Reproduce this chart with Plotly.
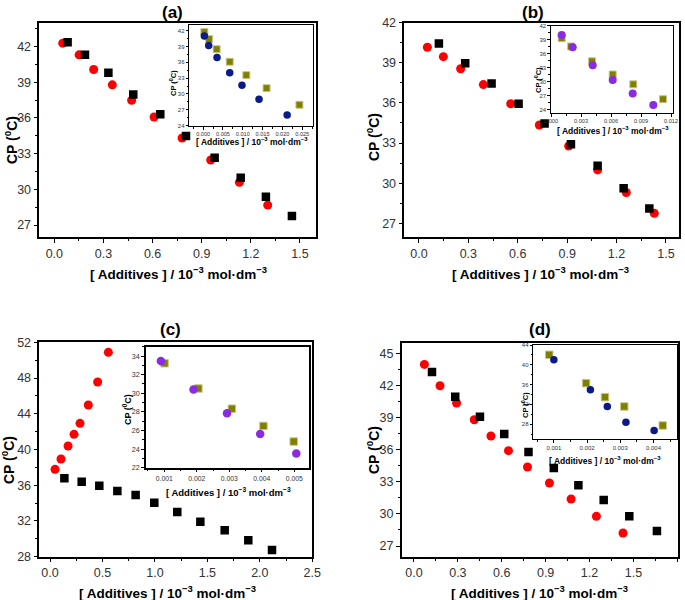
import plotly.graph_objects as go

W, H = 685, 600

# ---------------- data ----------------
# Panel (a) main
a_red_x = [0.051, 0.151, 0.240, 0.354, 0.472, 0.609, 0.780, 0.955, 1.130, 1.303]
a_red_y = [42.28, 41.30, 40.07, 38.78, 37.49, 36.08, 34.32, 32.47, 30.59, 28.68]
a_blk_x = [0.081, 0.187, 0.330, 0.482, 0.647, 0.804, 0.979, 1.138, 1.292, 1.451]
a_blk_y = [42.36, 41.30, 39.79, 37.96, 36.31, 34.49, 32.66, 30.98, 29.38, 27.76]
# Panel (a) inset
ai_olv_x = [0.0003, 0.0015, 0.0034, 0.0067, 0.0109, 0.0160, 0.0243]
ai_olv_y = [41.75, 40.42, 38.51, 36.11, 33.57, 31.10, 27.93]
ai_blu_x = [0.0003, 0.0014, 0.0035, 0.0067, 0.0098, 0.0141, 0.0212]
ai_blu_y = [40.99, 39.21, 36.93, 34.02, 31.67, 29.00, 25.97]

# Panel (b) main
b_red_x = [0.051, 0.148, 0.253, 0.391, 0.557, 0.731, 0.909, 1.085, 1.259, 1.429]
b_red_y = [40.16, 39.46, 38.56, 37.37, 35.94, 34.35, 32.78, 30.99, 29.30, 27.75]
b_blk_x = [0.121, 0.281, 0.441, 0.605, 0.763, 0.923, 1.085, 1.243, 1.399]
b_blk_y = [40.45, 38.96, 37.46, 35.94, 34.47, 32.90, 31.31, 29.62, 28.10]
# Panel (b) inset
bi_olv_x = [0.00107, 0.0020, 0.0041, 0.00617, 0.00823, 0.0112]
bi_olv_y = [39.32, 37.55, 34.38, 31.56, 29.44, 26.26]
bi_pur_x = [0.00107, 0.00217, 0.00417, 0.00617, 0.00817, 0.01023]
bi_pur_y = [40.02, 37.41, 33.53, 30.36, 27.46, 24.99]

# Panel (c) main
c_red_x = [0.048, 0.105, 0.172, 0.229, 0.286, 0.365, 0.454, 0.556]
c_red_y = [37.78, 38.94, 40.39, 41.70, 42.93, 44.98, 47.56, 50.88]
c_blk_x = [0.137, 0.302, 0.470, 0.642, 0.816, 0.994, 1.213, 1.433, 1.665, 1.890, 2.116]
c_blk_y = [36.77, 36.40, 35.95, 35.35, 34.90, 34.05, 33.00, 31.92, 30.95, 29.83, 28.74]
# Panel (c) inset
ci_pur_x = [0.000897, 0.0019, 0.00293, 0.00395, 0.00506]
ci_pur_y = [33.47, 30.40, 27.84, 25.63, 23.53]
ci_olv_x = [0.00101, 0.00205, 0.00308, 0.00405, 0.00498]
ci_olv_y = [33.22, 30.51, 28.34, 26.49, 24.81]

# Panel (d) main
d_red_x = [0.071, 0.178, 0.291, 0.412, 0.526, 0.646, 0.776, 0.926, 1.074, 1.247, 1.429]
d_red_y = [43.97, 41.98, 40.36, 38.80, 37.28, 35.91, 34.38, 32.89, 31.39, 29.77, 28.21]
d_blk_x = [0.123, 0.282, 0.451, 0.617, 0.783, 0.956, 1.124, 1.297, 1.472, 1.661]
d_blk_y = [43.26, 40.95, 39.08, 37.46, 35.78, 34.29, 32.67, 31.30, 29.77, 28.40]
# Panel (d) inset
di_olv_x = [0.00086, 0.00197, 0.00254, 0.00312, 0.00428]
di_olv_y = [42.02, 36.29, 33.46, 31.57, 27.73]
di_blu_x = [0.0010, 0.0021, 0.00261, 0.00317, 0.00402]
di_blu_y = [41.01, 34.94, 31.57, 28.40, 26.72]

panel_labels = ["(a)", "(b)", "(c)", "(d)"]
x_title = "[ Additives ] / 10<sup>−3</sup> mol·dm<sup>−3</sup>"
y_title = "CP (<sup>0</sup>C)"

# ---------------- styles ----------------
RED, BLACK = "#ff0000", "#000000"
OLIVE, NAVY, PURPLE = "#808000", "#0b1a8a", "#8a2be2"
FONT = "Liberation Sans, Arial, sans-serif"
TICKCOL = "#333333"


def dx(a, b):
    return [a / W, b / W]


def dy(top, bottom):
    return [1 - bottom / H, 1 - top / H]


fig = go.Figure()


def add_pts(x, y, color, symbol, size, xa, ya, line_color=None):
    fig.add_trace(go.Scatter(
        x=x, y=y, mode="markers", xaxis=xa, yaxis=ya, showlegend=False,
        marker=dict(color=color, symbol=symbol, size=size,
                    line=dict(width=1 if line_color else 0, color=line_color or color))))


# main panels
add_pts(a_red_x, a_red_y, RED, "circle", 9, "x", "y")
add_pts(a_blk_x, a_blk_y, BLACK, "square", 8.5, "x", "y")
add_pts(b_red_x, b_red_y, RED, "circle", 9, "x2", "y2")
add_pts(b_blk_x, b_blk_y, BLACK, "square", 8.5, "x2", "y2")
add_pts(c_red_x, c_red_y, RED, "circle", 9, "x3", "y3")
add_pts(c_blk_x, c_blk_y, BLACK, "square", 8.5, "x3", "y3")
add_pts(d_red_x, d_red_y, RED, "circle", 9, "x4", "y4")
add_pts(d_blk_x, d_blk_y, BLACK, "square", 8.5, "x4", "y4")
# insets
add_pts(ai_olv_x, ai_olv_y, OLIVE, "square", 7, "x5", "y5", "#c9c98a")
add_pts(ai_blu_x, ai_blu_y, NAVY, "circle", 7.5, "x5", "y5")
add_pts(bi_olv_x, bi_olv_y, OLIVE, "square", 7, "x6", "y6", "#c9c98a")
add_pts(bi_pur_x, bi_pur_y, PURPLE, "circle", 8, "x6", "y6")
add_pts(ci_olv_x, ci_olv_y, OLIVE, "square", 7.5, "x7", "y7", "#c9c98a")
add_pts(ci_pur_x, ci_pur_y, PURPLE, "circle", 8.5, "x7", "y7")
add_pts(di_olv_x, di_olv_y, OLIVE, "square", 7.5, "x8", "y8", "#c9c98a")
add_pts(di_blu_x, di_blu_y, NAVY, "circle", 7.5, "x8", "y8")


def axis(domain, rng, dtick, fmt, anchor, fs, minor_dtick=None, tick0=0, lw=1.5, ticklen=4):
    d = dict(domain=domain, range=rng, dtick=dtick, tick0=tick0, tickformat=fmt,
             anchor=anchor, showgrid=False, zeroline=False, showline=True, mirror=True,
             linecolor="black", linewidth=lw, ticks="outside", ticklen=ticklen,
             tickcolor="black", tickwidth=1, automargin=False,
             tickfont=dict(family=FONT, size=fs, color=TICKCOL))
    if minor_dtick:
        d["minor"] = dict(ticks="outside", ticklen=ticklen * 0.6, dtick=minor_dtick,
                          tick0=tick0, tickcolor="black", showgrid=False)
    return d


lay = dict(
    width=W, height=H, margin=dict(l=0, r=0, t=0, b=0, autoexpand=False),
    paper_bgcolor="white", plot_bgcolor="white", showlegend=False,
    # main (a)
    xaxis=axis(dx(39.3, 316), [-0.092, 1.598], 0.3, ".1f", "y", 12.5, 0.15),
    yaxis=axis(dy(22.7, 237), [26, 44], 3, "d", "x", 12.5, 1.5),
    # main (b)
    xaxis2=axis(dx(404.3, 679.3), [-0.089, 1.581], 0.3, ".1f", "y2", 12.5, 0.15),
    yaxis2=axis(dy(22.7, 237.3), [25.95, 42], 3, "d", "x2", 12.5, 1.5),
    # main (c)
    xaxis3=axis(dx(39.3, 312.3), [-0.102, 2.5], 0.5, ".1f", "y3", 12.5, 0.25),
    yaxis3=axis(dy(342.3, 556.7), [28, 52], 4, "d", "x3", 12.5, 2),
    # main (d)
    xaxis4=axis(dx(401.7, 678), [-0.084, 1.805], 0.3, ".1f", "y4", 12.5, 0.15),
    yaxis4=axis(dy(342.7, 556.7), [26, 46], 3, "d", "x4", 12.5, 1.5),
    # inset (a)
    xaxis5=axis(dx(189.3, 313.3), [-0.0035, 0.0278], 0.005, ".3f", "y5", 5.6, 0.0025, lw=1.2, ticklen=2.5),
    yaxis5=axis(dy(25, 126), [23.9, 43.1], 3, "d", "x5", 6, 1.5, lw=1.2, ticklen=2.5),
    # inset (b)
    xaxis6=axis(dx(551, 673), [0, 0.0122], 0.003, ".3f", "y6", 5.6, 0.0015, lw=1.2, ticklen=2.5),
    yaxis6=axis(dy(25.7, 113), [23.3, 42], 3, "d", "x6", 6, 1.5, lw=1.2, ticklen=2.5),
    # inset (c)
    xaxis7=axis(dx(146, 309), [0.00044, 0.00545], 0.001, ".3f", "y7", 6.8, 0.0005, lw=1.5, ticklen=3),
    yaxis7=axis(dy(346.7, 467.7), [22, 35], 2, "d", "x7", 7.2, 1, lw=1.5, ticklen=3),
    # inset (d)
    xaxis8=axis(dx(533.3, 676.7), [0.00038, 0.0047], 0.001, ".3f", "y8", 6, 0.0005, lw=1.2, ticklen=2.5),
    yaxis8=axis(dy(345, 439), [25, 44], 4, "d", "x8", 6, 2, lw=1.2, ticklen=2.5),
)
fig.update_layout(**lay)


def ann(text, x, y, size, angle=0, bold=True):
    fig.add_annotation(
        text=f"<b>{text}</b>" if bold else text, x=x / W, y=1 - y / H,
        xref="paper", yref="paper", showarrow=False, textangle=angle,
        xanchor="center", yanchor="middle",
        font=dict(family=FONT, size=size, color="black"))


# panel labels
for lab, (px_, py_) in zip(panel_labels, [(172, 12), (533, 12), (170, 329), (540, 329)]):
    ann(lab, px_, py_, 17)

# main axis titles
for (px_, py_) in [(178, 273), (540, 273), (167, 592), (539, 592)]:
    ann(x_title, px_, py_, 13.5)
for (px_, py_) in [(11, 140), (373, 137), (8, 460), (373, 450)]:
    ann(y_title, px_, py_, 14, angle=-90)

# inset axis titles
ann(x_title, 252, 141, 8.5)
ann(y_title, 173, 83, 7.5, angle=-90)
ann(x_title, 613, 131, 8.5)
ann(y_title, 538, 80, 7.5, angle=-90)
ann(x_title, 228, 492, 9.5)
ann(y_title, 127, 410, 9, angle=-90)
ann(x_title, 605, 460, 8.5)
ann(y_title, 525, 405, 7.5, angle=-90)

fig.write_html("out.html", config={"displayModeBar": False},
               post_script="document.body.style.margin='0';document.body.style.overflow='hidden';")
